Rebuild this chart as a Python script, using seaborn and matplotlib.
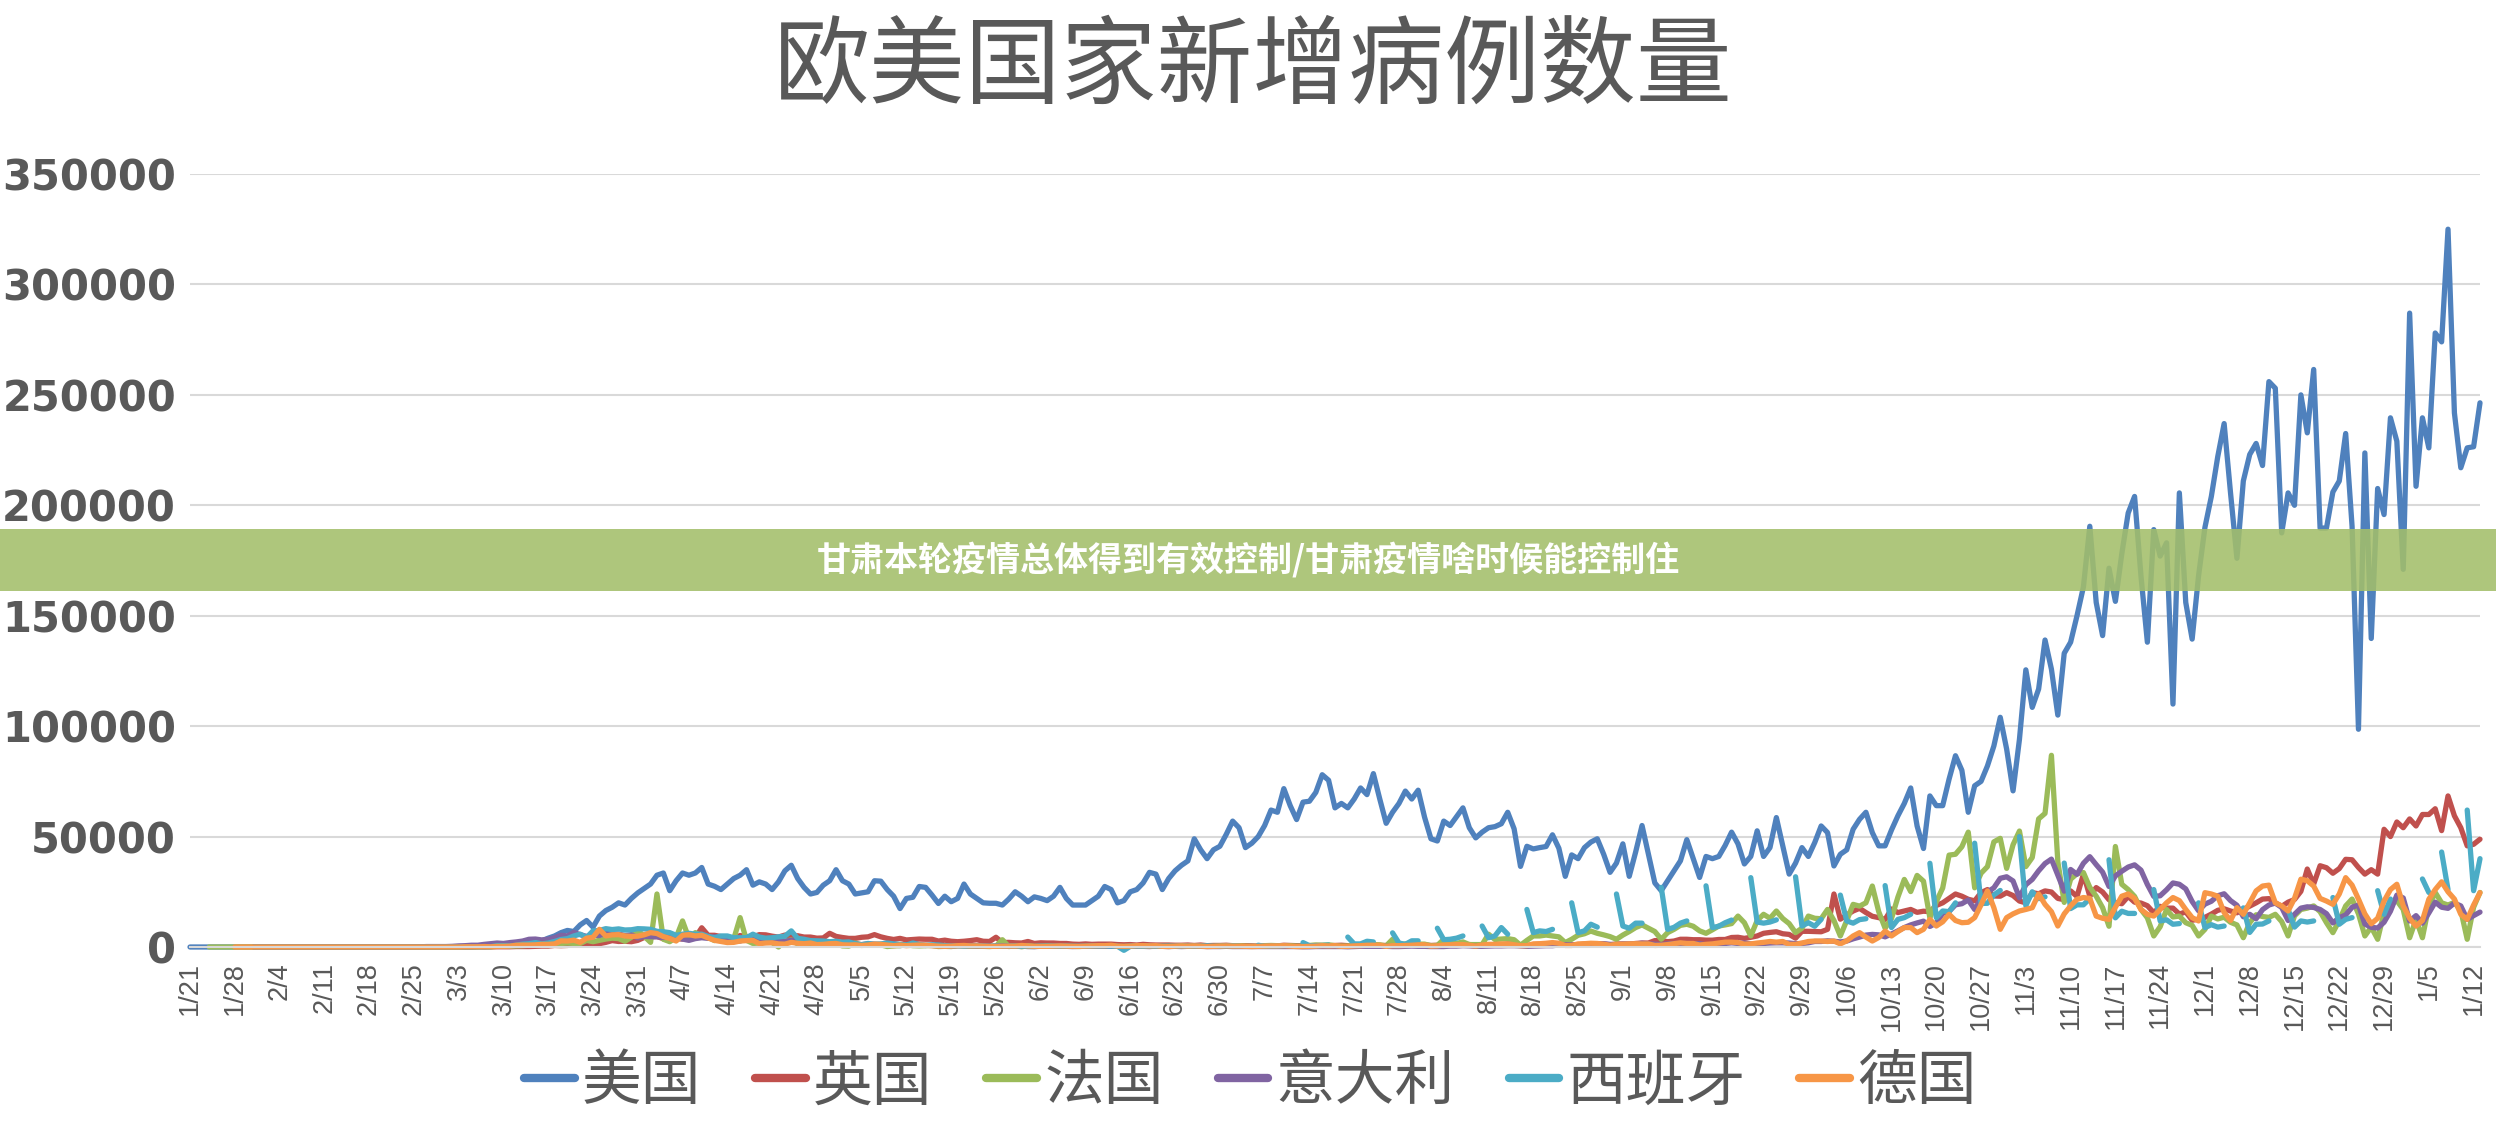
import numpy as np
import pandas as pd
import matplotlib
matplotlib.use("Agg")
import matplotlib.pyplot as plt
from matplotlib.patches import Rectangle
import seaborn as sns

nan = np.nan

# 欧美国家每日新增病例 (单位: 千例), 2020-01-21 .. 2021-01-13
title = "欧美国家新增病例数量"
banner_text = "甘肃本轮疫情总体得到有效控制/甘肃疫情啥时候能控制住"
countries = ["美国", "英国", "法国", "意大利", "西班牙", "德国"]
colors = ["#4F81BD", "#C0504D", "#9BBB59", "#8064A2", "#4BACC6", "#F79646"]

tick_labels = ["1/21", "1/28", "2/4", "2/11", "2/18", "2/25", "3/3", "3/10", "3/17",
               "3/24", "3/31", "4/7", "4/14", "4/21", "4/28", "5/5", "5/12", "5/19",
               "5/26", "6/2", "6/9", "6/16", "6/23", "6/30", "7/7", "7/14", "7/21",
               "7/28", "8/4", "8/11", "8/18", "8/25", "9/1", "9/8", "9/15", "9/22",
               "9/29", "10/6", "10/13", "10/20", "10/27", "11/3", "11/10", "11/17",
               "11/24", "12/1", "12/8", "12/15", "12/22", "12/29", "1/5", "1/12"]
y_ticks = [0, 50000, 100000, 150000, 200000, 250000, 300000, 350000]

us_k = [
    0, 0, 0, 0, 0, 0, 0,
    0, 0, 0, 0, 0, 0, 0,
    0, 0, 0, 0, 0, 0, 0,
    0, 0, 0, 0, 0, 0, 0,
    0, 0, 0, 0, 0, 0, 0,
    0, 0, 0, 0, 0, 0, 0,
    0.1, 0.1, 0.1, 0.2, 0.3, 0.4, 0.5,  # 3/3
    0.6, 0.8, 1.0, 1.3, 1.8, 2.5, 2.8,
    4.0, 5.0, 6.5, 7.5, 7.0, 10.0, 12.0,
    9.0, 14.0, 16.5, 18.0, 20.0, 19.0, 22.0,  # 3/24
    24.5, 26.5, 28.5, 32.5, 33.5, 25.5, 30.0,
    33.5, 32.5, 33.5, 36.0, 28.5, 27.5, 26.0,
    28.5, 31.0, 32.5, 35.0, 28.0, 29.5, 28.5,
    26.0, 29.5, 34.5, 37.0, 31.0, 27.0, 24.0,  # 4/21
    24.7, 28.0, 30.0, 35.0, 30.0, 28.5, 24.0,
    24.5, 25.0, 30.0, 29.8, 26.0, 23.0, 17.4,
    22.0, 22.5, 27.4, 27.0, 23.5, 19.7, 23.0,
    20.5, 22.0, 28.5, 24.0, 22.0, 20.0, 19.8,  # 5/19
    19.8, 19.0, 21.7, 25.0, 23.0, 20.5, 22.7,
    22.0, 21.0, 23.0, 27.0, 22.0, 19.0, 19.0,
    19.0, 21.0, 23.0, 27.4, 26.0, 20.0, 21.0,
    25.0, 26.0, 29.0, 33.8, 33.0, 26.0, 31.0,  # 6/16
    34.5, 37.0, 39.0, 49.0, 44.0, 40.0, 44.0,
    45.6, 51.0, 57.0, 54.0, 45.0, 47.0, 50.0,
    55.0, 62.0, 61.0, 71.7, 64.0, 57.7, 65.6,
    66.0, 70.0, 78.0, 75.5, 63.0, 65.0, 63.0,  # 7/14
    67.0, 72.0, 69.0, 78.5, 67.0, 56.0, 61.0,
    65.0, 70.6, 67.0, 71.0, 58.8, 49.0, 48.0,
    57.0, 55.0, 59.0, 63.0, 54.0, 49.4, 52.0,
    54.0, 54.5, 55.8, 61.0, 53.5, 36.5, 45.6,  # 8/11
    44.4, 45.0, 45.5, 50.8, 44.7, 32.0, 41.7,
    40.0, 45.0, 47.5, 49.0, 42.0, 33.8, 38.0,
    46.7, 32.0, 43.0, 55.0, 42.0, 29.0, 25.5,
    30.0, 34.5, 39.0, 48.6, 40.0, 31.5, 41.0,  # 9/8
    40.0, 41.0, 46.0, 52.0, 46.7, 37.6, 41.0,
    52.6, 41.0, 45.0, 58.6, 45.8, 33.0, 38.0,
    45.0, 41.0, 47.3, 54.8, 51.8, 36.7, 42.0,
    44.0, 53.3, 57.8, 61.0, 51.8, 45.8, 45.8,  # 10/6
    53.0, 59.4, 65.0, 72.0, 54.8, 44.6, 68.4,
    64.0, 64.0, 76.0, 86.6, 80.0, 61.0, 73.0,
    75.0, 82.0, 91.0, 104.0, 89.6, 70.7, 94.0,
    125.5, 108.5, 116.8, 139.0, 125.8, 105.0, 133.0,  # 11/3
    138.0, 150.0, 163.0, 190.5, 156.0, 141.0, 171.5,
    156.5, 178.0, 196.5, 204.0, 168.0, 138.0, 189.0,
    177.0, 183.0, 110.0, 205.6, 156.0, 139.4, 168.0,
    190.0, 204.0, 222.0, 237.0, 205.6, 176.0, 211.0,  # 12/1
    223.0, 228.0, 218.0, 256.0, 253.0, 187.5, 205.6,
    200.0, 250.0, 232.8, 261.5, 189.7, 189.7, 206.0,
    211.0, 232.5, 190.5, 98.6, 223.7, 139.7, 207.6,
    195.8, 239.6, 229.0, 171.0, 287.0, 208.6, 239.6,  # 12/29
    226.0, 278.0, 274.0, 325.0, 241.8, 217.0, 226.0,
    226.5, 246.4,
]

uk_k = [
    nan, nan, nan, nan, nan, nan, nan,
    nan, nan, nan, 0, 0, 0, 0,
    0, 0, 0, 0, 0, 0, 0,
    0, 0, 0, 0, 0, 0, 0,
    0, 0, 0, 0, 0, 0, 0,
    0, 0, 0, 0, 0, 0, 0,
    0.0, 0.0, 0.0, 0.1, 0.0, 0.1, 0.1,  # 3/3
    0.1, 0.1, 0.2, 0.2, 0.2, 0.3, 0.4,
    0.4, 0.7, 0.6, 0.7, 1.0, 1.0, 1.0,
    1.5, 1.5, 2.1, 2.9, 2.5, 2.6, 2.4,  # 3/24
    3.0, 4.3, 4.5, 4.8, 3.7, 5.9, 3.8,
    3.6, 5.5, 4.3, 8.7, 5.3, 5.3, 4.7,
    4.5, 3.6, 5.2, 4.6, 4.6, 5.6, 5.5,
    4.9, 4.5, 5.4, 4.9, 5.1, 4.5, 4.5,  # 4/21
    4.0, 4.1, 6.2, 4.8, 4.3, 3.9, 3.9,
    4.4, 4.6, 5.6, 4.6, 3.9, 3.4, 3.9,
    3.2, 3.4, 3.6, 3.5, 3.5, 2.7, 3.1,
    2.6, 2.4, 2.6, 2.9, 3.3, 2.6, 2.5,  # 5/19
    4.4, 2.0, 2.1, 1.9, 1.8, 2.5, 1.6,
    1.9, 1.8, 1.8, 1.6, 1.6, 1.3, 1.2,
    1.4, 1.2, 1.3, 1.3, 1.3, 1.1, 1.0,
    1.1, 0.9, 1.2, 1.0, 0.9, 0.9, 0.9,  # 6/16
    0.8, 0.8, 0.9, 0.7, 0.9, 0.6, 0.7,
    0.7, 0.8, 0.6, 0.5, 0.6, 0.5, 0.4,
    0.6, 0.6, 0.5, 0.8, 0.7, 0.6, 0.5,
    0.6, 0.7, 0.7, 0.6, 0.7, 0.8, 0.6,  # 7/14
    0.7, 0.8, 0.8, 0.9, 0.7, 0.7, 0.6,
    0.8, 0.9, 1.0, 0.8, 0.9, 0.7, 0.8,
    0.9, 1.0, 1.1, 0.9, 1.1, 1.0, 0.8,
    1.0, 1.1, 1.0, 1.4, 1.3, 1.0, 0.7,  # 8/11
    1.1, 1.2, 1.0, 1.2, 1.3, 1.1, 1.0,
    1.0, 1.2, 1.0, 1.3, 1.3, 1.0, 1.4,
    1.3, 1.3, 1.6, 1.8, 1.8, 2.9, 2.9,
    2.4, 2.7, 3.5, 3.5, 3.3, 3.3, 3.1,  # 9/8
    3.1, 3.4, 3.4, 4.3, 4.4, 3.9, 4.4,
    5.0, 6.2, 6.6, 6.9, 6.0, 5.7, 4.0,
    7.1, 7.1, 7.0, 6.9, 8.0, 24.0, 12.6,
    14.5, 16.3, 17.5, 15.6, 13.9, 13.3, 12.5,  # 10/6
    17.2, 15.6, 16.3, 17.0, 15.7, 16.2, 16.0,
    18.8, 20.0, 22.0, 24.0, 23.0, 21.6, 20.9,
    24.6, 26.0, 23.1, 23.0, 24.6, 23.3, 20.8,
    20.0, 24.6, 24.1, 25.4, 24.9, 22.0, 21.4,  # 11/3
    25.4, 22.9, 33.0, 23.0, 26.9, 24.9, 21.4,
    20.1, 19.6, 22.9, 20.3, 19.9, 18.7, 15.5,
    18.4, 17.6, 17.6, 14.9, 15.9, 12.1, 12.6,
    13.4, 14.9, 16.6, 17.3, 16.3, 15.5, 17.0,  # 12/1
    18.5, 20.0, 21.7, 21.9, 20.0, 18.4, 20.3,
    21.5, 25.2, 35.3, 28.5, 36.8, 35.9, 33.4,
    35.5, 39.7, 39.5, 36.0, 33.0, 35.0, 33.0,
    53.3, 50.0, 56.6, 54.0, 58.0, 54.8, 60.0,  # 12/29
    60.0, 62.6, 52.7, 68.4, 59.4, 54.0, 45.8,
    46.5, 48.8,
]

fr_k = [
    nan, nan, nan, 0, 0, 0, 0,
    0, 0, 0, 0, 0, 0, 0,
    0, 0, 0, 0, 0, 0, 0,
    0, 0, 0, 0, 0, 0, 0,
    0, 0, 0, 0, 0, 0, 0,
    0, 0, 0, 0, 0, 0, 0,
    0.0, 0.1, 0.1, 0.1, 0.2, 0.1, 0.3,  # 3/3
    0.3, 0.4, 0.5, 0.6, 0.8, 0.9, 1.2,
    1.1, 1.4, 1.6, 1.8, 1.6, 1.6, 3.0,
    2.4, 3.0, 3.6, 4.0, 3.8, 2.6, 4.4,  # 3/24
    7.5, 4.9, 2.1, 24.0, 3.5, 2.4, 4.3,
    11.8, 3.9, 6.5, 4.8, 4.3, 2.9, 4.2,
    4.5, 3.6, 13.3, 3.0, 1.6, 1.8, 2.4,
    2.0, 0.0, 2.7, 3.2, 1.4, 1.6, 1.0,  # 4/21
    1.6, 1.0, 1.0, 1.4, 0.5, 0.4, 1.8,
    0.9, 1.2, 0.8, 1.0, 0.2, 0.5, 0.6,
    1.0, 0.6, 0.5, 0.6, 0.7, 0.2, 0.3,
    0.2, 0.6, 0.5, 0.4, 0.4, 0.3, 0.2,  # 5/19
    0.4, 3.3, 0.2, 0.6, 0.1, 0.6, 0.3,
    0.3, 0.6, 0.6, 0.5, 0.3, 0.3, 0.2,
    0.4, 0.5, 0.5, 0.4, 0.4, 0.3, 0.2,
    0.5, 0.5, 0.6, 0.4, 0.3, 0.3, 0.4,  # 6/16
    0.3, 0.6, 0.5, 0.5, 0.4, 0.3, 0.3,
    0.5, 0.6, 0.5, 0.6, 0.4, 0.3, 0.3,
    0.6, 0.7, 0.6, 0.5, 0.6, 0.4, 0.3,
    0.7, 0.9, 0.8, 1.0, 0.6, 0.4, 0.4,  # 7/14
    1.0, 1.1, 1.1, 1.1, 1.0, 0.5, 3.5,
    0.9, 1.4, 1.7, 1.3, 1.3, 0.6, 0.7,
    3.5, 1.6, 1.6, 2.3, 1.1, 1.1, 1.1,
    5.8, 3.4, 3.6, 3.8, 3.3, 0.8, 3.0,  # 8/11
    5.0, 5.0, 5.4, 5.0, 4.6, 2.0, 3.5,
    5.3, 6.0, 7.2, 6.2, 5.5, 4.7, 3.5,
    5.4, 7.0, 8.8, 10.0, 8.5, 7.0, 3.5,
    6.5, 8.0, 9.8, 10.3, 9.4, 7.3, 6.2,  # 9/8
    7.8, 9.5, 10.0, 10.6, 14.0, 11.0, 5.0,
    12.0, 14.8, 13.0, 16.3, 12.9, 10.6, 6.5,
    8.5, 14.0, 13.0, 12.8, 17.0, 12.0, 5.0,
    12.0, 19.3, 18.5, 20.0, 27.6, 16.0, 8.5,  # 10/6
    12.9, 22.6, 30.6, 25.1, 32.4, 29.8, 13.2,
    20.5, 26.7, 41.6, 42.0, 45.4, 52.0, 26.8,
    33.4, 36.4, 47.6, 49.2, 35.6, 46.3, 52.5,
    36.4, 40.5, 58.0, 60.5, 86.8, 38.6, 20.2,  # 11/3
    30.7, 33.2, 33.7, 27.0, 23.0, 17.8, 9.4,
    45.5, 28.4, 26.0, 22.9, 17.0, 13.2, 5.0,
    9.2, 17.0, 13.6, 14.0, 11.0, 9.8, 5.0,
    8.0, 14.0, 12.7, 13.5, 11.2, 10.0, 4.2,  # 12/1
    11.0, 14.6, 13.8, 13.4, 14.8, 11.5, 5.0,
    14.1, 17.0, 17.6, 18.6, 16.0, 11.0, 6.5,
    12.0, 18.6, 21.7, 15.0, 5.0, 9.0, 3.5,
    15.6, 20.0, 21.0, 17.0, 4.2, 12.5, 4.2,  # 12/29
    18.6, 24.7, 20.0, 19.0, 20.2, 16.6, 3.5,
    18.0, 24.7,
]

it_k = [
    nan, nan, nan, nan, nan, nan, nan,
    nan, nan, nan, 0, 0, 0, 0,
    0, 0, 0, 0, 0, 0, 0,
    0, 0, 0, 0, 0, 0, 0,
    0, 0, 0, 0, 0, 0, 0,
    0.1, 0.1, 0.2, 0.2, 0.2, 0.2, 0.3,
    0.5, 0.6, 0.8, 0.8, 1.2, 1.5, 1.8,  # 3/3
    1.6, 2.0, 2.3, 2.7, 3.5, 3.6, 3.2,
    3.5, 4.2, 5.3, 5.0, 6.6, 5.6, 4.8,
    5.2, 5.2, 6.2, 5.9, 5.9, 5.2, 5.6,  # 3/24
    4.1, 4.8, 4.7, 4.6, 4.3, 4.8, 4.3,
    3.6, 3.0, 3.8, 4.2, 3.9, 4.7, 4.1,
    3.2, 2.7, 2.7, 3.8, 3.5, 3.5, 3.0,
    2.6, 3.4, 2.6, 3.0, 3.0, 2.4, 2.3,  # 4/21
    2.1, 2.1, 1.9, 1.9, 1.4, 1.2, 1.2,
    1.1, 1.4, 1.3, 1.1, 1.0, 0.8, 0.7,
    0.9, 1.0, 0.9, 0.8, 0.7, 0.7, 0.5,
    0.5, 0.6, 0.6, 0.6, 0.4, 0.5, 0.3,  # 5/19
    0.4, 0.6, 0.3, 0.4, 0.4, 0.2, 0.2,
    0.3, 0.3, 0.5, 0.5, 0.3, 0.2, 0.3,
    0.3, 0.3, 0.3, 0.3, 0.3, 0.3, 0.2,
    0.4, 0.3, 0.3, 0.2, 0.4, 0.3, 0.2,  # 6/16
    0.3, 0.2, 0.3, 0.3, 0.3, 0.2, 0.2,
    0.2, 0.3, 0.2, 0.2, 0.2, 0.2, 0.2,
    0.2, 0.2, 0.2, 0.2, 0.2, 0.2, 0.1,
    0.1, 0.2, 0.2, 0.2, 0.2, 0.2, 0.1,  # 7/14
    0.2, 0.3, 0.3, 0.3, 0.3, 0.3, 0.2,
    0.2, 0.3, 0.4, 0.3, 0.3, 0.2, 0.2,
    0.2, 0.4, 0.4, 0.6, 0.5, 0.3, 0.3,
    0.4, 0.5, 0.5, 0.6, 0.6, 0.5, 0.3,  # 8/11
    0.4, 0.5, 0.6, 0.6, 0.9, 1.1, 0.9,
    1.0, 1.2, 1.3, 1.4, 1.5, 1.2, 1.0,
    1.4, 1.3, 1.4, 1.7, 1.4, 1.3, 1.1,
    1.4, 1.6, 1.6, 1.6, 1.5, 1.5, 1.0,  # 9/8
    1.2, 1.5, 1.6, 1.9, 1.6, 1.8, 1.4,
    1.4, 1.6, 1.8, 1.9, 1.9, 1.8, 1.5,
    1.6, 1.9, 2.5, 2.5, 2.8, 2.6, 2.3,
    2.7, 3.7, 4.5, 5.4, 5.7, 5.5, 4.6,  # 10/6
    5.9, 7.3, 8.8, 10.0, 10.9, 11.7, 9.3,
    10.9, 15.2, 16.1, 19.1, 19.6, 21.3, 17.0,
    21.9, 24.9, 26.8, 31.1, 31.8, 29.9, 22.3,
    28.2, 30.6, 34.5, 37.8, 39.8, 32.6, 25.3,  # 11/3
    35.1, 32.9, 37.9, 40.9, 37.3, 33.9, 27.4,
    32.2, 34.3, 36.2, 37.2, 34.8, 28.3, 22.9,
    23.2, 25.9, 29.0, 28.4, 26.3, 20.6, 16.4,
    19.4, 20.7, 23.2, 24.1, 21.0, 18.9, 13.7,  # 12/1
    14.8, 12.8, 16.9, 19.0, 19.9, 17.9, 12.0,
    14.8, 17.6, 18.2, 17.9, 17.0, 15.1, 10.9,
    13.3, 14.5, 18.0, 19.0, 10.4, 8.9, 8.6,
    11.2, 16.2, 23.5, 22.2, 11.8, 14.2, 10.8,  # 12/29
    15.4, 20.3, 18.0, 17.5, 19.9, 18.6, 12.5,
    14.2, 15.8,
]

# 西班牙周末不报告, 留空
es_k = [
    nan, nan, nan, nan, nan, nan, nan,
    nan, nan, nan, 0, 0, 0, 0,
    0, 0, 0, 0, 0, 0, 0,
    0, 0, 0, 0, 0, 0, 0,
    0, 0, 0, 0, 0, 0, 0,
    0, 0, 0, 0, 0, 0, 0,
    0.0, 0.1, 0.1, 0.1, 0.2, 0.1, 0.6,  # 3/3
    0.6, 0.5, 0.8, 1.3, 1.5, 2.0, 1.4,
    1.8, 2.5, 3.4, 3.8, 5.0, 5.8, 4.3,
    7.3, 7.5, 8.3, 7.9, 8.2, 7.7, 7.8,  # 3/24
    8.3, 8.2, 8.0, 7.1, 6.9, 6.5, 5.3,
    5.8, 6.2, 5.8, 5.8, 4.8, 4.2, 5.0,
    5.0, 4.2, 4.2, 4.2, 5.8, 4.5, 4.0,
    4.2, 4.6, 4.9, 7.3, 3.9, 3.5, 2.9,  # 4/21
    2.8, 2.7, 2.4, 2.6, 2.2, 2.3, 1.5,
    1.0, 1.6, 1.2, 1.4, 1.8, 1.4, 1.2,
    0.9, 1.8, 1.1, 0.7, 1.0, 0.9, 0.6,
    0.4, 0.6, 0.5, 0.4, 0.5, 0.4, 0.3,  # 5/19
    0.5, 0.3, 0.4, 0.4, 0.3, 0.3, 0.2,
    0.4, 0.4, 0.3, 0.3, 0.4, 0.3, 0.3,
    0.3, 0.4, 0.4, 0.5, 0.4, 0.3, -1.5,
    0.3, 0.4, 0.3, 0.4, 0.3, 0.3, 0.3,  # 6/16
    0.3, 0.4, 0.3, 0.3, 0.4, 0.5, 0.3,
    0.3, 0.4, 0.5, 0.4, nan, nan, 0.8,
    0.3, 0.4, 0.4, 0.6, nan, nan, 2.0,
    0.6, 0.6, 0.7, 0.9, nan, nan, 4.5,  # 7/14
    1.4, 1.4, 2.6, 2.3, nan, nan, 6.4,
    1.8, 1.2, 2.8, 2.8, nan, nan, 8.5,
    3.3, 3.5, 4.0, 5.0, nan, nan, 9.5,
    4.2, 5.0, 8.8, 5.8, nan, nan, 17.0,  # 8/11
    6.5, 7.3, 7.0, 8.0, nan, nan, 20.0,
    6.5, 7.3, 10.3, 9.0, nan, nan, 24.0,
    9.5, 8.5, 10.8, 10.8, nan, nan, 27.0,
    8.0, 8.9, 10.8, 11.8, nan, nan, 27.7,  # 9/8
    8.8, 9.4, 11.0, 12.2, nan, nan, 31.4,
    11.3, 10.8, 11.3, 12.3, nan, nan, 31.8,
    9.5, 11.0, 9.4, 12.5, nan, nan, 23.5,
    11.8, 10.8, 12.4, 12.8, nan, nan, 27.8,  # 10/6
    8.8, 12.5, 13.3, 14.8, nan, nan, 37.9,
    13.3, 16.3, 16.0, 20.0, nan, nan, 47.0,
    19.7, 19.8, 23.6, 25.6, nan, nan, 50.0,
    18.7, 25.0, 21.9, 22.7, nan, nan, 38.0,  # 11/3
    17.4, 19.1, 19.1, 21.9, nan, nan, 39.5,
    13.2, 16.2, 15.2, 15.2, nan, nan, 26.0,
    11.8, 12.3, 10.3, 10.6, nan, nan, 20.0,
    8.8, 10.1, 9.0, 9.5, nan, nan, 17.7,  # 12/1
    6.6, 10.3, 10.4, 11.8, nan, nan, 17.0,
    9.0, 11.8, 11.3, 11.8, nan, nan, 22.4,
    10.3, 12.5, 13.3, nan, nan, nan, 25.5,
    14.8, 21.7, nan, nan, nan, nan, 30.8,  # 12/29
    24.7, nan, 43.0, 26.0, nan, nan, 62.0,
    25.5, 40.0,
]

de_k = [
    nan, nan, nan, nan, nan, nan, nan,
    0, 0, 0, 0, 0, 0, 0,
    0, 0, 0, 0, 0, 0, 0,
    0, 0, 0, 0, 0, 0, 0,
    0, 0, 0, 0, 0, 0, 0,
    0, 0, 0, 0, 0, 0, 0,
    0.0, 0.1, 0.1, 0.1, 0.2, 0.1, 0.3,  # 3/3
    0.3, 0.4, 0.8, 0.9, 0.9, 1.0, 1.2,
    1.2, 1.4, 2.8, 2.7, 3.1, 2.1, 4.0,
    4.4, 8.0, 5.0, 5.5, 5.6, 5.0, 4.8,  # 3/24
    4.9, 5.5, 6.5, 6.1, 4.7, 3.9, 2.7,
    5.3, 5.6, 5.0, 5.3, 4.1, 3.0, 2.5,
    2.0, 2.1, 2.7, 2.9, 3.0, 1.5, 1.8,
    1.9, 1.4, 1.3, 2.1, 1.7, 1.5, 1.8,  # 4/21
    1.1, 1.2, 1.5, 1.6, 1.0, 0.9, 1.0,
    0.7, 0.9, 1.3, 1.2, 0.9, 0.6, 0.9,
    0.6, 0.8, 0.9, 0.8, 0.6, 0.4, 0.3,
    0.4, 0.6, 0.7, 0.5, 0.5, 0.4, 0.3,  # 5/19
    0.3, 0.4, 0.4, 0.4, 0.7, 0.5, 0.3,
    0.3, 0.3, 0.4, 0.5, 0.4, 0.3, 0.3,
    0.4, 0.5, 0.6, 0.6, 0.8, 0.4, 0.3,
    0.4, 0.6, 0.6, 0.5, 0.6, 0.3, 0.2,  # 6/16
    0.4, 0.5, 0.4, 0.5, 0.4, 0.2, 0.3,
    0.4, 0.5, 0.4, 0.4, 0.3, 0.2, 0.3,
    0.4, 0.5, 0.5, 0.6, 0.4, 0.2, 0.2,
    0.3, 0.4, 0.6, 0.5, 0.6, 0.3, 0.3,  # 7/14
    0.5, 0.6, 0.8, 0.8, 0.8, 0.3, 0.6,
    0.6, 0.7, 0.8, 1.0, 1.0, 0.4, 0.5,
    0.9, 1.0, 1.1, 1.1, 0.8, 0.4, 0.9,
    1.2, 1.2, 1.4, 1.4, 1.0, 0.6, 0.6,  # 8/11
    1.4, 1.5, 1.7, 2.0, 1.7, 0.7, 0.7,
    1.4, 1.5, 1.7, 1.6, 1.3, 0.8, 1.2,
    1.3, 1.4, 1.5, 1.4, 1.4, 0.7, 0.8,
    1.1, 1.5, 1.9, 1.6, 1.6, 0.9, 1.2,  # 9/8
    1.4, 1.8, 2.2, 2.2, 2.0, 1.3, 1.4,
    1.8, 2.1, 2.5, 2.2, 2.5, 1.2, 1.2,
    1.8, 2.5, 2.7, 2.7, 2.5, 2.7, 1.4,
    2.8, 5.0, 6.5, 4.5, 2.7, 4.3, 7.2,  # 10/6
    5.0, 7.0, 8.8, 8.8, 6.5, 8.0, 12.5,
    9.5, 11.4, 14.8, 12.0, 11.0, 11.2, 13.3,
    19.1, 25.4, 17.8, 8.0, 13.3, 15.0, 16.3,
    17.0, 17.8, 24.0, 19.3, 16.0, 9.5, 15.0,  # 11/3
    18.6, 21.6, 22.4, 22.0, 14.0, 13.0, 12.5,
    18.0, 23.0, 24.0, 22.0, 17.0, 14.8, 14.0,
    17.0, 20.0, 22.4, 21.0, 17.0, 13.3, 11.8,
    24.6, 24.0, 23.0, 15.6, 12.0, 17.8, 14.8,  # 12/1
    20.0, 25.4, 27.6, 28.0, 20.0, 18.6, 16.3,
    22.0, 30.7, 30.0, 27.6, 22.0, 20.8, 19.3,
    24.0, 31.4, 28.0, 21.7, 15.0, 10.5, 13.0,
    20.8, 26.0, 28.4, 18.6, 13.0, 9.5, 12.0,  # 12/29
    21.6, 26.0, 29.5, 25.0, 21.7, 14.8, 12.5,
    19.0, 24.6,
]

series = [us_k, uk_k, fr_k, it_k, es_k, de_k]

# long table; gaps (NaN) split a line into separate segments
frames = []
for name, vals in zip(countries, series):
    s = pd.Series(vals, dtype=float) * 1000
    frames.append(pd.DataFrame({
        "day": np.arange(len(s)),
        "cases": s,
        "country": name,
        "seg": s.isna().cumsum(),
    }).dropna())
df = pd.concat(frames, ignore_index=True)

sns.set_theme(style="white")
plt.rcParams["font.family"] = ["Noto Sans CJK SC", "DejaVu Sans"]

W, H = 2496, 1121
fig = plt.figure(figsize=(W / 100, H / 100), dpi=100)
ax = fig.add_axes([190 / W, 1 - 947 / H, (2480 - 190) / W, (947 - 174) / H])

sns.lineplot(data=df, x="day", y="cases", hue="country", hue_order=countries,
             units="seg", estimator=None, palette=dict(zip(countries, colors)),
             linewidth=3.8, solid_joinstyle="round", solid_capstyle="round",
             clip_on=False, ax=ax)

ax.set_xlim(0, len(us_k) - 1)
ax.set_ylim(0, 350000)
ax.set_xticks(np.arange(0, len(us_k), 7), labels=tick_labels, rotation=90,
              fontsize=19.5, fontfamily="Liberation Sans", color="#595959")
ax.set_yticks(y_ticks, labels=[str(v) for v in y_ticks], fontsize=30,
              fontfamily="DejaVu Sans", fontweight="bold", color="#595959")
ax.tick_params(axis="x", length=7, width=1.5, color="#D9D9D9", pad=4)
ax.tick_params(axis="y", length=0, pad=10)
ax.set_xlabel("")
ax.set_ylabel("")
ax.yaxis.grid(True, color="#D9D9D9", linewidth=1.5)
ax.set_axisbelow(True)
for side in ["top", "right", "left"]:
    ax.spines[side].set_visible(False)
ax.spines["bottom"].set_color("#D9D9D9")
ax.spines["bottom"].set_linewidth(1.5)

sns.move_legend(ax, "center", bbox_to_anchor=(0.501, 0.034),
                bbox_transform=fig.transFigure, ncol=6, title=None,
                frameon=False, fontsize=43, handlelength=0.85,
                handletextpad=0.12, columnspacing=0.9)
leg = ax.get_legend()
leg.set_title("")
for t in leg.get_texts():
    t.set_color("#595959")
for ln in leg.get_lines():
    ln.set_linewidth(6)
    ln.set_solid_capstyle("round")

fig.text(0.502, 1 - 68 / H, title, ha="center", va="center",
         fontsize=69, color="#595959")

# 横幅 overlay
fig.add_artist(Rectangle((0, 1 - 591 / H), 1, 62 / H, transform=fig.transFigure,
                         facecolor="#A3BE6A", edgecolor="none", alpha=0.88, zorder=5))
fig.text(0.5, 1 - 560 / H, banner_text, ha="center", va="center",
         fontsize=24.5, fontweight="bold", color="white", zorder=6)

fig.savefig("out.png", dpi=100)
